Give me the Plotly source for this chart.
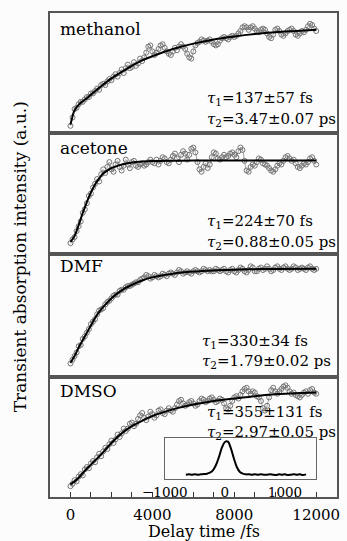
import plotly.graph_objects as go

# ---------------- data (panel-normalised) ----------------
t_data = list(range(0, 12001, 100))

methanol = [0.06,0.13,0.20,0.21,0.24,0.26,0.26,0.28,0.30,0.30,0.33,
            0.33,0.35,0.37,0.36,0.40,0.41,0.40,0.43,0.45,0.44,
            0.47,0.49,0.47,0.50,0.53,0.50,0.54,0.57,0.54,0.55,
            0.59,0.56,0.58,0.62,0.60,0.63,0.67,0.72,0.73,0.68,
            0.65,0.67,0.70,0.73,0.74,0.71,0.68,0.66,0.65,0.68,
            0.71,0.69,0.72,0.74,0.72,0.70,0.66,0.63,0.62,0.68,
            0.73,0.75,0.76,0.78,0.77,0.76,0.77,0.78,0.76,0.74,
            0.73,0.74,0.77,0.79,0.80,0.79,0.78,0.80,0.81,0.80,
            0.81,0.83,0.85,0.88,0.89,0.88,0.86,0.88,0.89,0.87,
            0.85,0.84,0.86,0.87,0.86,0.83,0.80,0.79,0.82,0.86,
            0.87,0.85,0.82,0.81,0.83,0.85,0.86,0.87,0.85,0.82,
            0.81,0.83,0.85,0.84,0.86,0.89,0.91,0.90,0.87,0.85]

acetone = [0.09,0.12,0.14,0.19,0.23,0.27,0.34,0.37,0.42,0.48,0.50,
           0.55,0.58,0.62,0.60,0.66,0.70,0.67,0.72,0.76,0.70,
           0.68,0.74,0.77,0.72,0.69,0.73,0.78,0.74,0.71,0.76,
           0.77,0.73,0.72,0.74,0.75,0.73,0.74,0.76,0.78,0.76,
           0.75,0.78,0.74,0.77,0.80,0.79,0.76,0.75,0.78,0.81,
           0.83,0.79,0.76,0.82,0.85,0.83,0.78,0.82,0.87,0.88,
           0.84,0.76,0.70,0.68,0.72,0.75,0.71,0.74,0.80,0.84,
           0.83,0.79,0.78,0.80,0.82,0.80,0.81,0.83,0.84,0.82,
           0.80,0.85,0.88,0.86,0.77,0.69,0.68,0.72,0.74,0.73,
           0.76,0.79,0.78,0.75,0.74,0.73,0.71,0.69,0.68,0.70,
           0.73,0.75,0.74,0.77,0.80,0.81,0.79,0.77,0.78,0.75,
           0.72,0.71,0.73,0.75,0.74,0.76,0.79,0.80,0.77,0.74]

dmf = [0.11,0.14,0.17,0.20,0.25,0.26,0.31,0.33,0.36,0.39,0.43,
       0.45,0.47,0.51,0.54,0.55,0.56,0.59,0.61,0.62,0.64,
       0.66,0.67,0.67,0.70,0.71,0.71,0.73,0.74,0.74,0.75,
       0.76,0.77,0.77,0.79,0.80,0.81,0.83,0.82,0.80,0.81,
       0.83,0.82,0.81,0.82,0.84,0.83,0.82,0.84,0.85,0.84,
       0.83,0.85,0.87,0.86,0.84,0.85,0.86,0.85,0.84,0.86,
       0.87,0.86,0.85,0.86,0.88,0.87,0.86,0.87,0.86,0.86,
       0.88,0.87,0.86,0.87,0.88,0.86,0.85,0.87,0.88,0.86,
       0.85,0.87,0.89,0.88,0.86,0.85,0.87,0.90,0.89,0.86,
       0.86,0.88,0.89,0.87,0.88,0.90,0.88,0.86,0.87,0.89,
       0.90,0.88,0.87,0.89,0.90,0.88,0.87,0.88,0.90,0.89,
       0.87,0.88,0.89,0.88,0.87,0.89,0.90,0.88,0.87,0.88]

dmso = [0.09,0.11,0.14,0.13,0.17,0.19,0.18,0.23,0.25,0.24,0.28,
        0.30,0.29,0.33,0.36,0.34,0.38,0.41,0.40,0.44,0.47,
        0.45,0.48,0.52,0.50,0.53,0.57,0.55,0.57,0.61,0.62,
        0.59,0.61,0.65,0.68,0.70,0.66,0.64,0.67,0.71,0.69,
        0.66,0.68,0.72,0.73,0.70,0.69,0.72,0.74,0.72,0.71,
        0.74,0.77,0.80,0.81,0.78,0.76,0.77,0.79,0.80,0.78,
        0.76,0.77,0.80,0.82,0.81,0.79,0.80,0.82,0.83,0.81,
        0.79,0.80,0.82,0.81,0.78,0.74,0.73,0.76,0.80,0.83,
        0.84,0.82,0.85,0.88,0.90,0.91,0.88,0.86,0.88,0.87,
        0.84,0.83,0.80,0.74,0.72,0.76,0.83,0.89,0.91,0.88,
        0.86,0.88,0.90,0.92,0.93,0.91,0.88,0.86,0.87,0.85,
        0.84,0.83,0.85,0.87,0.88,0.86,0.89,0.90,0.87,0.86]

meth_fit_t = [0,100,200,400,600,800,1000,1500,2000,2500,3000,3500,4000,5000,6000,7000,8000,9000,10000,11000,12000]
meth_fit = [0.07,0.14,0.19,0.235,0.265,0.29,0.32,0.39,0.455,0.51,0.56,0.605,0.64,0.70,0.745,0.78,0.805,0.825,0.84,0.85,0.86]

acet_fit_t = [0,200,400,600,800,1000,1200,1400,1600,1800,2000,2400,2800,3200,4000,5000,6000,8000,12000]
acet_fit = [0.10,0.15,0.24,0.34,0.43,0.51,0.575,0.625,0.665,0.69,0.71,0.735,0.75,0.76,0.768,0.771,0.772,0.773,0.773]

dmf_fit_t = [0,200,400,600,800,1000,1200,1400,1600,1800,2000,2200,2500,3000,3500,4000,5000,6000,7000,8000,9000,10000,12000]
dmf_fit = [0.115,0.17,0.24,0.30,0.36,0.42,0.48,0.53,0.57,0.605,0.64,0.668,0.705,0.75,0.785,0.81,0.84,0.857,0.867,0.873,0.877,0.879,0.88]

dmso_fit_t = [0,200,400,600,800,1000,1500,2000,2500,3000,3500,4000,5000,6000,7000,8000,9000,10000,11000,12000]
dmso_fit = [0.105,0.13,0.16,0.20,0.235,0.27,0.355,0.45,0.53,0.59,0.635,0.675,0.73,0.77,0.80,0.82,0.84,0.855,0.865,0.87]

inset_t = [-650,-600,-550,-500,-450,-400,-350,-300,-250,-200,-150,-100,-50,0,50,100,150,200,250,300,
           350,400,450,500,550,600,650,700,750,800,850,900,950,1000,1050,1100,1150,1200,1250,1300,1350]
inset_v = [0.00,0.01,0.00,0.01,0.00,0.01,0.02,0.03,0.06,0.13,0.28,0.52,0.80,0.97,0.98,0.78,0.48,0.22,0.08,0.03,
           0.01,0.01,0.00,0.01,0.00,0.01,0.00,0.00,0.01,0.00,-0.01,0.01,0.00,0.01,-0.01,0.00,0.01,0.00,0.01,-0.01,0.01]

solvents = ["methanol", "acetone", "DMF", "DMSO"]
tau1 = ["137±57 fs", "224±70 fs", "330±34 fs", "355±131 fs"]
tau2 = ["3.47±0.07 ps", "0.88±0.05 ps", "1.79±0.02 ps", "2.97±0.05 ps"]
x_ticks = [0, 4000, 8000, 12000]
x_tick_text = ["0", "4000", "8000", "12000"]
inset_ticks = [-1000, 0, 1000]
inset_tick_text = ["−1000", "0", "1000"]

series = [methanol, acetone, dmf, dmso]
fits = [(meth_fit_t, meth_fit), (acet_fit_t, acet_fit), (dmf_fit_t, dmf_fit), (dmso_fit_t, dmso_fit)]

# ---------------- figure ----------------
FONT = "DejaVu Serif, Liberation Serif, serif"
W, H = 347, 541
ML, MR, MT, MB = 50, 7, 13, 44
PW = W - ML - MR
PH = H - MT - MB

def px_x(p):
    return (p - ML) / PW

def px_y(p):
    return (H - MB - p) / PH

domains = [[0.752, 1.0], [0.502, 0.752], [0.248, 0.502], [0.0, 0.248]]

fig = go.Figure()
for i in range(4):
    xa = "x" if i == 0 else f"x{i+1}"
    ya = "y" if i == 0 else f"y{i+1}"
    fig.add_trace(go.Scatter(x=t_data, y=series[i], mode="lines+markers", xaxis=xa, yaxis=ya,
                             line=dict(color="#a0a0a0", width=1, shape="spline"),
                             marker=dict(symbol="circle-open", size=5, color="#757575",
                                         line=dict(width=1, color="#757575")),
                             showlegend=False))
    fig.add_trace(go.Scatter(x=fits[i][0], y=fits[i][1], mode="lines", xaxis=xa, yaxis=ya,
                             line=dict(color="black", width=2, shape="spline"),
                             showlegend=False))

fig.add_trace(go.Scatter(x=inset_t, y=inset_v, mode="lines", xaxis="x5", yaxis="y5",
                         line=dict(color="black", width=2, shape="spline"), showlegend=False))

frame = dict(showline=True, mirror=True, linecolor="#555555", linewidth=1.5,
             showgrid=False, zeroline=False)
layout = dict(width=W, height=H, margin=dict(l=ML, r=MR, t=MT, b=MB),
              paper_bgcolor="#fcfcfc", plot_bgcolor="#fcfcfc",
              font=dict(family=FONT, color="black", size=15), showlegend=False)

for i in range(4):
    xk = "xaxis" if i == 0 else f"xaxis{i+1}"
    yk = "yaxis" if i == 0 else f"yaxis{i+1}"
    ya = "y" if i == 0 else f"y{i+1}"
    xd = dict(frame, domain=[0, 1], range=[-1000, 13015], anchor=ya)
    if i < 3:
        xd.update(showticklabels=False, ticks="")
    else:
        xd.update(tickmode="array", tickvals=x_ticks, ticktext=x_tick_text, ticks="inside",
                  ticklen=5, tickwidth=1.2, tickcolor="#333",
                  tickfont=dict(size=15, family=FONT), ticklabelstandoff=3,
                  minor=dict(dtick=1000, tick0=0, ticks="inside", ticklen=5, tickwidth=1.2,
                             tickcolor="#333"))
    if i > 0:
        xd["matches"] = "x"
    layout[xk] = xd
    layout[yk] = dict(frame, domain=domains[i], range=[0, 1], showticklabels=False, ticks="",
                      anchor="x" if i == 0 else f"x{i+1}")

layout["xaxis5"] = dict(showline=True, mirror=True, linecolor="#666", linewidth=1, showgrid=False,
                        zeroline=False, domain=[px_x(165.7), px_x(319)], range=[-1005, 1520],
                        anchor="y5", tickmode="array", tickvals=inset_ticks, ticktext=inset_tick_text,
                        ticks="", ticklabelstandoff=0,
                        tickfont=dict(size=13.5, family=FONT))
layout["yaxis5"] = dict(showline=True, mirror=True, linecolor="#666", linewidth=1, showgrid=False,
                        zeroline=False, domain=[px_y(479.3), px_y(437.7)], range=[-0.137, 1.098],
                        anchor="x5", showticklabels=False, ticks="")

fig.update_layout(**layout)

ann = []
label_y = [29.5, 147.7, 266.3, 391]
tau_x = [206.7, 206.7, 201.7, 206.7]
tau_y = [(99, 119), (222, 242), (341.3, 361.3), (412.7, 432.7)]
for i in range(4):
    ann.append(dict(text=solvents[i], xref="paper", yref="paper", x=px_x(58), y=px_y(label_y[i]),
                    xanchor="left", yanchor="middle", showarrow=False,
                    font=dict(size=17, family=FONT)))
    ann.append(dict(text="<i>τ</i><sub>1</sub>=" + tau1[i], xref="paper", yref="paper",
                    x=px_x(tau_x[i]), y=px_y(tau_y[i][0]), xanchor="left", yanchor="middle",
                    showarrow=False, font=dict(size=15, family=FONT)))
    ann.append(dict(text="<i>τ</i><sub>2</sub>=" + tau2[i], xref="paper", yref="paper",
                    x=px_x(tau_x[i]), y=px_y(tau_y[i][1]), xanchor="left", yanchor="middle",
                    showarrow=False, font=dict(size=15, family=FONT)))

ann.append(dict(text="Delay time /fs", xref="paper", yref="paper", x=px_x(205.8), y=px_y(531),
                xanchor="center", yanchor="middle", showarrow=False, font=dict(size=16, family=FONT)))
ann.append(dict(text="Transient absorption intensity (a.u.)", xref="paper", yref="paper",
                x=px_x(20), y=px_y(257), xanchor="center", yanchor="middle", textangle=-90,
                showarrow=False, font=dict(size=17, family=FONT)))
fig.update_layout(annotations=ann)

fig.write_html("out.html")
